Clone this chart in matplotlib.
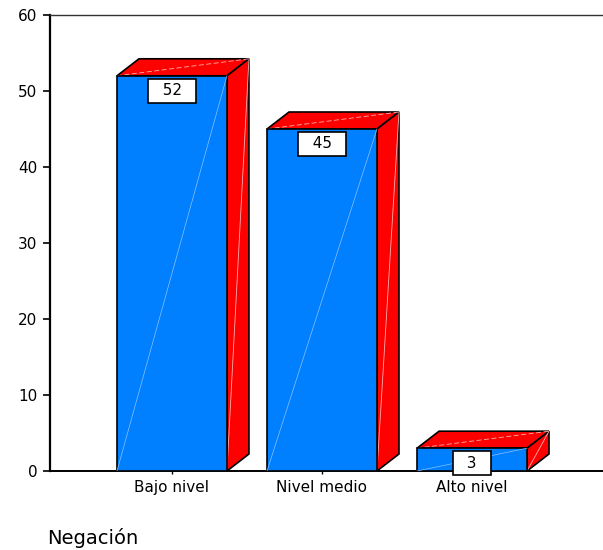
import matplotlib.pyplot as plt
from matplotlib.patches import Polygon

plt.rcParams['font.family'] = ['DejaVu Sans']

categorias = ['Bajo nivel', 'Nivel medio', 'Alto nivel']
frecuencias = [52, 45, 3]
titulo = 'Negación'

azul = '#0080ff'
rojo = '#ff0000'

fig = plt.figure(figsize=(6.03, 5.5), dpi=100)
ax = fig.add_axes([50 / 603, 1 - 471 / 550, 553 / 603, 456 / 550])

x = list(range(len(categorias)))
ax.set_xlim(-0.813, 2.873)
ax.set_ylim(0, 60)

# profundidad del efecto 3D, en pixeles
prof_x, prof_y = 22, 17
sx = ax.bbox.width / (ax.get_xlim()[1] - ax.get_xlim()[0])
sy = ax.bbox.height / (ax.get_ylim()[1] - ax.get_ylim()[0])
dx, dy = prof_x / sx, prof_y / sy

barras = ax.bar(x, frecuencias, width=0.733, color=azul, edgecolor='black',
                linewidth=1.2, zorder=3)

for rect, v in zip(barras, frecuencias):
    x0 = rect.get_x()
    x1 = x0 + rect.get_width()
    tapa = [(x0, v), (x1, v), (x1 + dx, v + dy), (x0 + dx, v + dy)]
    lado = [(x1, 0), (x1 + dx, dy), (x1 + dx, v + dy), (x1, v)]
    for pts in (tapa, lado):
        ax.add_patch(Polygon(pts, closed=True, facecolor=rojo,
                             edgecolor='black', linewidth=1.2, zorder=2))
    # reflejos tenues de las caras
    ax.plot([x0, x1], [0, v], color='#8cc2ff', lw=0.5, zorder=4)
    ax.plot([x0, x1 + dx], [v, v + dy], color='#ffb0b0', lw=0.6,
            ls=(0, (6, 3)), zorder=2.5)
    ax.plot([x1, x1 + dx], [0, v + dy], color='#ffb0b0', lw=0.6, zorder=2.5)
    ax.annotate('  %d  ' % v, xy=(rect.get_x() + rect.get_width() / 2, v),
                xytext=(0, -15), textcoords='offset pixels',
                ha='center', va='center', fontsize=11, zorder=5,
                bbox=dict(boxstyle='square,pad=0.3', facecolor='white',
                          edgecolor='black', linewidth=1.2))

ax.set_xticks(x)
ax.set_xticklabels(categorias, fontsize=11)
ax.set_yticks(range(0, 61, 10))
ax.tick_params(axis='y', labelsize=11, length=5, width=1.2, pad=4)
ax.tick_params(axis='x', length=2.5, width=1, pad=4)

ax.spines['right'].set_visible(False)
ax.spines['left'].set_linewidth(1.6)
ax.spines['bottom'].set_linewidth(1.4)
ax.spines['top'].set_linewidth(1.0)
ax.spines['top'].set_color('#333333')

fig.text(47 / 603, 1 - 538 / 550, titulo, fontsize=14, ha='left', va='center')

fig.savefig('out.png', dpi=100)
